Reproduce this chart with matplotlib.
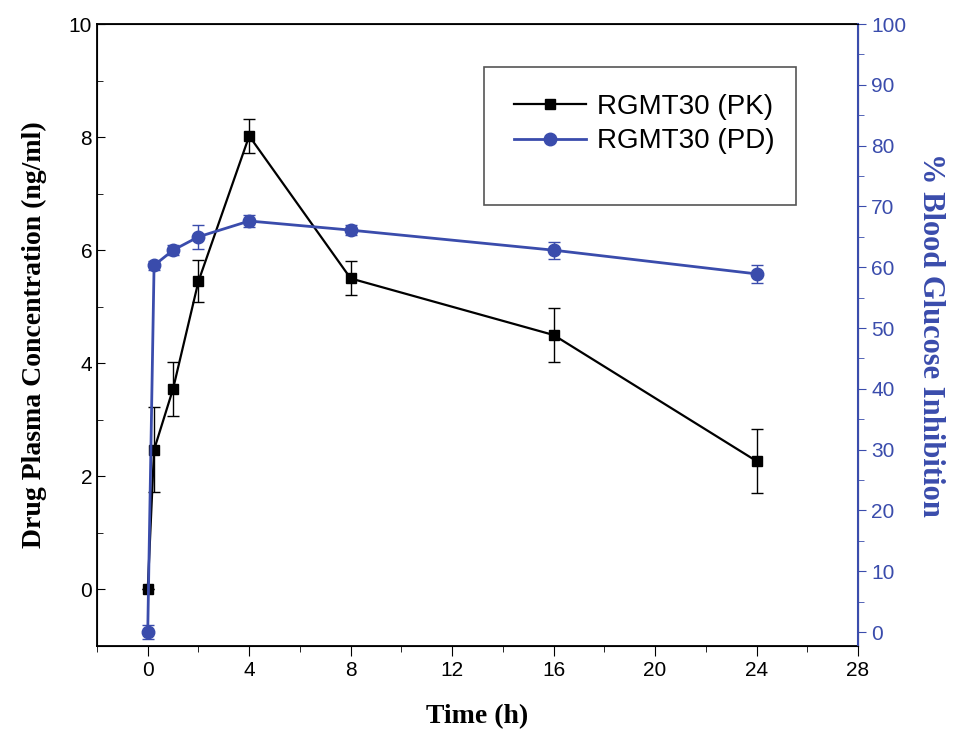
import matplotlib.pyplot as plt
from matplotlib.lines import Line2D
from matplotlib.patches import Rectangle
from matplotlib.ticker import MultipleLocator

time_h = [0, 0.25, 1, 2, 4, 8, 16, 24]
pk_conc = [0.0, 2.47, 3.55, 5.45, 8.02, 5.50, 4.50, 2.27]
pk_err = [0.0, 0.75, 0.48, 0.37, 0.30, 0.30, 0.47, 0.56]
pd_inhib = [0.0, 60.3, 62.8, 65.0, 67.6, 66.1, 62.8, 58.9]
pd_err = [1.2, 0.8, 0.8, 2.0, 1.0, 0.8, 1.4, 1.5]
labels = ["RGMT30 (PK)", "RGMT30 (PD)"]

blue = "#3a4cac"
plt.rcParams["font.family"] = ["Liberation Sans", "DejaVu Sans"]
serif = ["Liberation Serif", "DejaVu Serif"]

fig = plt.figure(figsize=(9.55, 7.39), dpi=100)
ax = fig.add_axes([97 / 955, 1 - 646 / 739, (858 - 97) / 955, (646 - 24) / 739])
ax2 = ax.twinx()

ax.errorbar(time_h, pk_conc, yerr=pk_err, color="black", marker="s", markersize=7,
            linewidth=1.6, capsize=4, elinewidth=1)
ax2.errorbar(time_h, pd_inhib, yerr=pd_err, color=blue, marker="o", markersize=9,
             linewidth=2, capsize=4, elinewidth=1)

ax.set_xlim(-2, 28)
ax.set_ylim(-1, 10)
ax2.set_ylim(-2.3, 100)

ax.xaxis.set_major_locator(MultipleLocator(4))
ax.xaxis.set_minor_locator(MultipleLocator(2))
ax.yaxis.set_minor_locator(MultipleLocator(1))
ax2.yaxis.set_minor_locator(MultipleLocator(5))
ax.set_yticks([0, 2, 4, 6, 8, 10])
ax2.set_yticks(range(0, 101, 10))

ax.tick_params(axis="x", which="both", direction="out", labelsize=15, length=7, top=False)
ax.tick_params(axis="x", which="minor", length=4)
ax.tick_params(axis="y", which="both", direction="in", labelsize=15, length=6, right=False)
ax.tick_params(axis="y", which="minor", length=4)
ax2.tick_params(axis="y", which="both", direction="out", colors=blue, labelsize=15, length=6)
ax2.tick_params(axis="y", which="minor", length=4)
ax2.spines["right"].set_color(blue)
ax2.spines["right"].set_linewidth(1.5)
for s in ["left", "bottom", "top"]:
    ax.spines[s].set_linewidth(1.3)

ax.set_xlabel("Time (h)", fontsize=20, fontweight="bold", family=serif, labelpad=18)
ax.set_ylabel("Drug Plasma Concentration (ng/ml)", fontsize=20, fontweight="bold",
              family=serif, labelpad=16)
ax2.set_ylabel("% Blood Glucose Inhibition", fontsize=22, fontweight="bold", family=serif,
               color=blue, rotation=270, labelpad=28)

# legend box drawn separately (it has empty room below the entries)
ax.add_patch(Rectangle(((484 - 97) / 761, (646 - 205) / 622), 312 / 761, 138 / 622,
                       transform=ax.transAxes, fill=False, edgecolor="#555555",
                       linewidth=1.2, zorder=5))
handles = [Line2D([], [], color="black", marker="s", markersize=7, linewidth=1.6),
           Line2D([], [], color=blue, marker="o", markersize=9, linewidth=2)]
ax.legend(handles, labels, loc="upper left",
          bbox_to_anchor=((500 - 97) / 761, (646 - 80) / 622), fontsize=20, frameon=False,
          handlelength=2.6, handletextpad=0.4, labelspacing=0.3, borderpad=0)

fig.savefig("out.png", dpi=100)
